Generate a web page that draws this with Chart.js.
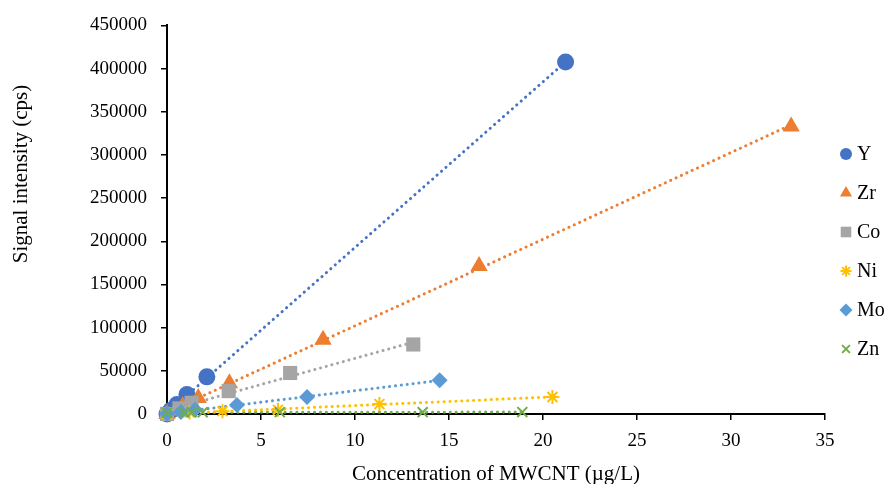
<!DOCTYPE html>
<html><head><meta charset="utf-8">
<script src="https://cdn.jsdelivr.net/npm/chart.js@4.4.1/dist/chart.umd.min.js"></script>
<style>html,body{margin:0;padding:0;background:#fff}#wrap{width:887px;height:484px}</style>
</head><body><div id="wrap"><canvas id="c" width="887" height="484"></canvas></div>
<script>
const seriesNames = ['Y', 'Zr', 'Co', 'Ni', 'Mo', 'Zn'];
const xY  = [0, 0.21, 0.53, 1.06, 2.12, 21.2];
const yY  = [0, 4200, 11000, 22500, 43000, 407500];
const xZr = [0, 0.83, 1.66, 3.32, 8.3, 16.6, 33.2];
const yZr = [0, 9000, 18500, 35500, 86000, 171500, 333000];
const xCo = [0, 0.66, 1.31, 3.28, 6.55, 13.1];
const yCo = [0, 6500, 13000, 26500, 47500, 80500];
const xNi = [0, 1.2, 2.95, 5.9, 11.3, 20.5];
const yNi = [0, 1800, 3300, 4800, 11500, 19700];
const xMo = [0, 0.74, 1.49, 3.72, 7.45, 14.5];
const yMo = [300, 2300, 4800, 10300, 19800, 39000];
const xZn = [0, 0.9, 1.3, 1.9, 6.0, 13.6, 18.9];
const yZn = [1600, 1800, 1900, 2000, 2100, 2100, 2200];
const xTicks = [0, 5, 10, 15, 20, 25, 30, 35];
const yTicks = [0, 50000, 100000, 150000, 200000, 250000, 300000, 350000, 400000, 450000];

const colors = ['#4472C4', '#ED7D31', '#A5A5A5', '#FFC000', '#5B9BD5', '#70AD47'];
const styles = ['circle', 'triangle', 'rect', 'star', 'rectRot', 'crossRot'];
const radii = [8.5, 10, 10, 7, 8, 7];
const legendRadii = [6, 7, 7.5, 5.5, 6.5, 5.5];
const xs = [xY, xZr, xCo, xNi, xMo, xZn];
const ys = [yY, yZr, yCo, yNi, yMo, yZn];

const FONT = "'Liberation Serif', 'DejaVu Serif', serif";

function fit(x, y) {
  const n = x.length;
  let sx = 0, sy = 0, sxx = 0, sxy = 0;
  for (let i = 0; i < n; i++) { sx += x[i]; sy += y[i]; sxx += x[i]*x[i]; sxy += x[i]*y[i]; }
  const m = (n*sxy - sx*sy) / (n*sxx - sx*sx);
  const b = (sy - m*sx) / n;
  return {m, b};
}

const datasets = [];
seriesNames.forEach((name, i) => {
  const pts = xs[i].map((x, k) => ({x, y: ys[i][k]}));
  const lineStyle = (styles[i] === 'star' || styles[i] === 'crossRot');
  datasets.push({
    type: 'scatter', label: name, data: pts,
    pointStyle: styles[i], pointRadius: radii[i], pointHoverRadius: radii[i],
    backgroundColor: colors[i], borderColor: colors[i],
    pointBorderWidth: lineStyle ? 2 : 0,
    showLine: false, clip: false, order: 6 - i + 1
  });
  const f = fit(xs[i], ys[i]);
  const x0 = Math.min(...xs[i]), x1 = Math.max(...xs[i]);
  datasets.push({
    type: 'line', label: name + ' trend', data: [{x: x0, y: f.m*x0 + f.b}, {x: x1, y: f.m*x1 + f.b}],
    borderColor: colors[i], borderWidth: 3, borderDash: [0.1, 5.8], borderCapStyle: 'round',
    pointRadius: 0, fill: false, clip: false, order: 20
  });
});

const customText = {
  id: 'customText',
  afterDraw(chart) {
    const ctx = chart.ctx;
    ctx.save();
    ctx.fillStyle = '#000';
    ctx.font = '21px ' + FONT;
    ctx.textBaseline = 'middle';
    ctx.textAlign = 'center';
    ctx.fillText('Concentration of MWCNT (\u00b5g/L)', 496, 474);
    ctx.save();
    ctx.translate(21, 174);
    ctx.rotate(-Math.PI/2);
    ctx.fillText('Signal intensity (cps)', 0, 0);
    ctx.restore();
    // legend
    ctx.font = '20px ' + FONT;
    const ly = [154, 193, 232, 271, 310, 349];
    ctx.textAlign = 'left';
    seriesNames.forEach((name, i) => {
      const lineStyle = (styles[i] === 'star' || styles[i] === 'crossRot');
      ctx.fillStyle = colors[i];
      ctx.strokeStyle = colors[i];
      ctx.lineWidth = lineStyle ? 2 : 0;
      Chart.helpers.drawPoint(ctx, {pointStyle: styles[i], radius: legendRadii[i], rotation: 0, borderWidth: lineStyle ? 2 : 0}, 846, ly[i]);
      ctx.fillStyle = '#000';
      ctx.fillText(name, 857, ly[i] + 1);
    });
    ctx.restore();
  }
};

new Chart(document.getElementById('c'), {
  data: { datasets },
  options: {
    responsive: false, animation: false, devicePixelRatio: 1,
    layout: { padding: { left: 0, right: 62, top: 23, bottom: 0 } },
    plugins: { legend: { display: false }, tooltip: { enabled: false } },
    scales: {
      x: {
        type: 'linear', min: 0, max: 35,
        afterFit: s => { s.height = 70; },
        afterBuildTicks: s => { s.ticks = xTicks.map(v => ({value: v})); },
        grid: { drawOnChartArea: false, drawTicks: true, tickLength: 6, color: '#000', lineWidth: 1.5 },
        border: { color: '#000', width: 2 },
        ticks: { color: '#000', font: { family: FONT, size: 19 }, padding: 10, maxRotation: 0 }
      },
      y: {
        type: 'linear', min: 0, max: 450000,
        afterFit: s => { s.width = 167; },
        afterBuildTicks: s => { s.ticks = yTicks.map(v => ({value: v})); },
        grid: { drawOnChartArea: false, drawTicks: true, tickLength: 6, color: '#000', lineWidth: 1.5 },
        border: { color: '#000', width: 2 },
        ticks: { color: '#000', font: { family: FONT, size: 19 }, padding: 14, callback: v => String(v) }
      }
    }
  },
  plugins: [customText]
});
</script></body></html>
